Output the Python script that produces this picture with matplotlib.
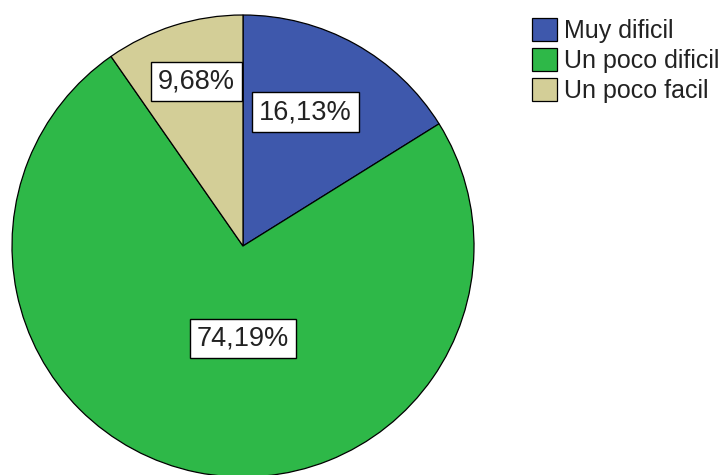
import numpy as np
import matplotlib.pyplot as plt

categories = ["Muy dificil", "Un poco dificil", "Un poco facil"]
percentages = [16.13, 74.19, 9.68]
colors = ["#3E58AC", "#2EB848", "#D3CE97"]

# label placement (fraction of radius, angle shift in degrees)
label_r = [0.64, 0.40, 0.74]
label_shift = [4.0, 11.6, -1.7]

plt.rcParams['font.family'] = ['Liberation Sans', 'DejaVu Sans']

W, H = 725, 475
fig = plt.figure(figsize=(W / 100, H / 100), dpi=100)
ax = fig.add_axes([0, 0, 1, 1])

cx, cy, R = 243, H - 246, 231
wedges, _ = ax.pie(percentages, colors=colors, startangle=90, counterclock=False,
                   center=(cx, cy), radius=R, frame=False,
                   wedgeprops=dict(edgecolor='black', linewidth=0.9))
ax.set_xlim(0, W)
ax.set_ylim(0, H)
ax.set_aspect('equal')
ax.axis('off')

for w, p, fr, sh in zip(wedges, percentages, label_r, label_shift):
    ang = np.deg2rad((w.theta1 + w.theta2) / 2 + sh)
    x = cx + fr * R * np.cos(ang)
    y = cy + fr * R * np.sin(ang)
    txt = f"{p:.2f}%".replace(".", ",")
    ax.text(x, y, txt, ha='center', va='center', fontsize=19.5, color='#222222',
            bbox=dict(boxstyle='square,pad=0.25', facecolor='white',
                      edgecolor='black', linewidth=1.0))

leg = fig.legend(wedges, categories, loc='upper left',
                 bbox_to_anchor=(532 / W, 1 - 18 / H), frameon=False,
                 fontsize=18, handlelength=1.0, handleheight=1.05,
                 handletextpad=0.28, labelspacing=0.2, borderpad=0.0,
                 borderaxespad=0.0)
for t in leg.get_texts():
    t.set_color('#222222')

fig.savefig('out.png', dpi=100)
